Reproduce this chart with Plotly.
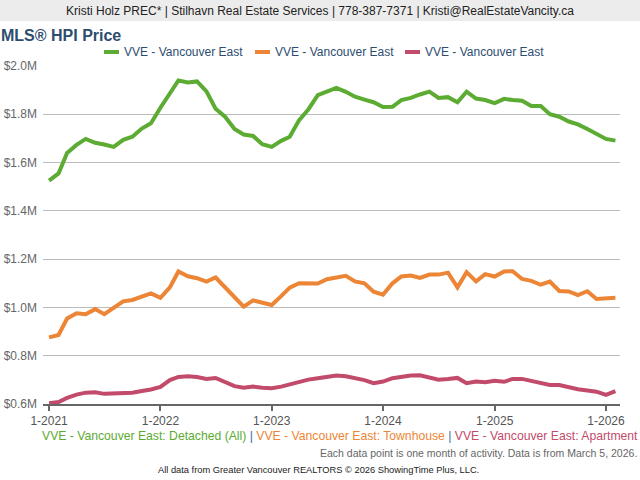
import plotly.graph_objects as go
import pandas as pd

months = pd.date_range("2021-01-01", "2026-02-01", freq="MS").strftime("%Y-%m-%d").tolist()

detached = [1525, 1555, 1640, 1673, 1698, 1682, 1675, 1665, 1694, 1707, 1741, 1763,
            1827, 1883, 1940, 1932, 1936, 1895, 1823, 1790, 1739, 1716, 1710, 1676,
            1665, 1690, 1707, 1776, 1820, 1879, 1893, 1909, 1893, 1873, 1861, 1850,
            1830, 1831, 1859, 1868, 1882, 1894, 1868, 1871, 1850, 1894, 1865, 1859,
            1846, 1864, 1859, 1856, 1834, 1834, 1800, 1790, 1770, 1758, 1739, 1718,
            1698, 1691]
townhouse = [876, 886, 954, 976, 972, 993, 972, 997, 1025, 1031, 1044, 1058,
             1040, 1083, 1149, 1129, 1121, 1107, 1124, 1083, 1044, 1003, 1029, 1018,
             1010, 1047, 1082, 1100, 1100, 1099, 1117, 1125, 1131, 1108, 1100, 1065,
             1053, 1100, 1128, 1132, 1122, 1136, 1136, 1144, 1083, 1146, 1108, 1138,
             1128, 1149, 1150, 1118, 1110, 1094, 1107, 1068, 1066, 1051, 1067, 1035,
             1038, 1040]
apartment = [603, 608, 625, 639, 647, 649, 642, 644, 642, 647, 654, 660,
             671, 699, 712, 715, 712, 704, 708, 689, 674, 667, 672, 667,
             665, 672, 682, 689, 701, 707, 712, 718, 715, 708, 699, 686,
             693, 707, 712, 718, 719, 711, 701, 704, 708, 686, 693, 690,
             696, 692, 704, 704, 696, 686, 679, 679, 669, 661, 656, 651,
             638, 653]

series_names = ["VVE - Vancouver East", "VVE - Vancouver East", "VVE - Vancouver East"]
series_full = ["VVE - Vancouver East: Detached (All)", "VVE - Vancouver East: Townhouse",
               "VVE - Vancouver East: Apartment"]
colors = ["#5cab32", "#ec8535", "#c24b6b"]

y_ticks = [600, 800, 1000, 1200, 1400, 1600, 1800, 2000]
y_ticktext = ["$0.6M", "$0.8M", "$1.0M", "$1.2M", "$1.4M", "$1.6M", "$1.8M", "$2.0M"]
x_ticks = ["2021-01-01", "2022-01-01", "2023-01-01", "2024-01-01", "2025-01-01", "2026-01-01"]
x_ticktext = ["1-2021", "1-2022", "1-2023", "1-2024", "1-2025", "1-2026"]

W, H = 640, 480
L, R, T, B = 43, 20, 66, 76
PW, PH = W - L - R, H - T - B


def px(x):
    return (x - L) / PW


def py(y):
    return (H - B - y) / PH


FONT = "Liberation Sans, Arial, sans-serif"

fig = go.Figure()
for vals, name, c in zip([detached, townhouse, apartment], series_names, colors):
    fig.add_trace(go.Scatter(x=months, y=vals, mode="lines", name=name,
                             line=dict(color=c, width=4), showlegend=False))

fig.update_layout(
    width=W, height=H,
    margin=dict(l=L, r=R, t=T, b=B, autoexpand=False),
    paper_bgcolor="white", plot_bgcolor="white",
    font=dict(family=FONT, size=12, color="#555"),
    showlegend=False,
    xaxis=dict(range=["2020-12-12", "2026-02-16"], tickvals=x_ticks, ticktext=x_ticktext,
               showgrid=False, showline=True, linecolor="#666", linewidth=2,
               ticks="outside", ticklen=5, tickwidth=2, tickcolor="#666",
               tickfont=dict(color="#555", size=12), zeroline=False, automargin=False),
    yaxis=dict(range=[600, 2000], tickvals=y_ticks, ticktext=y_ticktext,
               showgrid=True, gridcolor="#bbbbbb", gridwidth=1, zeroline=False,
               showline=False, ticks="", ticklabelstandoff=5, automargin=False,
               tickfont=dict(color="#666", size=12)),
)

# header bar
fig.add_shape(type="rect", xref="paper", yref="paper", x0=px(0), x1=px(640),
              y0=py(21), y1=py(0), fillcolor="#ececec", line=dict(width=0), layer="below")

# custom legend (short thick bars + labels)
legend_bar_x = [104, 255, 405]
for bx, name, c in zip(legend_bar_x, series_names, colors):
    fig.add_shape(type="line", xref="paper", yref="paper", x0=px(bx), x1=px(bx + 15),
                  y0=py(52), y1=py(52), line=dict(color=c, width=4))
    fig.add_annotation(text=name, xref="paper", yref="paper", x=px(bx + 18), y=py(52),
                       xanchor="left", yanchor="middle", showarrow=False,
                       font=dict(size=12, color="#2d4d70"))

ann = [
    dict(text="Kristi Holz PREC* | Stilhavn Real Estate Services | 778-387-7371 | Kristi@RealEstateVancity.ca",
         x=px(320), y=py(11), xanchor="center", yanchor="middle",
         font=dict(size=12, color="#222")),
    dict(text="<b>MLS® HPI Price</b>", x=px(-1), y=py(35), xanchor="left", yanchor="middle",
         font=dict(size=16, color="#2d4d70")),
    dict(text=(f"<span style='color:{colors[0]}'>{series_full[0]}</span>"
               f"<span style='color:#3a6ea5'> | </span>"
               f"<span style='color:{colors[1]}'>{series_full[1]}</span>"
               f"<span style='color:#3a6ea5'> | </span>"
               f"<span style='color:{colors[2]}'>{series_full[2]}</span>"),
         x=px(640), y=py(436), xanchor="right", yanchor="middle", font=dict(size=12.2)),
    dict(text="Each data point is one month of activity. Data is from March 5, 2026.",
         x=px(639), y=py(453), xanchor="right", yanchor="middle",
         font=dict(size=10.5, color="#666")),
    dict(text="All data from Greater Vancouver REALTORS © 2026 ShowingTime Plus, LLC.",
         x=px(318), y=py(470), xanchor="center", yanchor="middle",
         font=dict(size=9.3, color="#222")),
]
for a in ann:
    a.update(xref="paper", yref="paper", showarrow=False)
    fig.add_annotation(**a)

fig.write_html("out.html", config={"displayModeBar": False},
               post_script="document.body.style.margin='0';document.body.style.padding='0';")
